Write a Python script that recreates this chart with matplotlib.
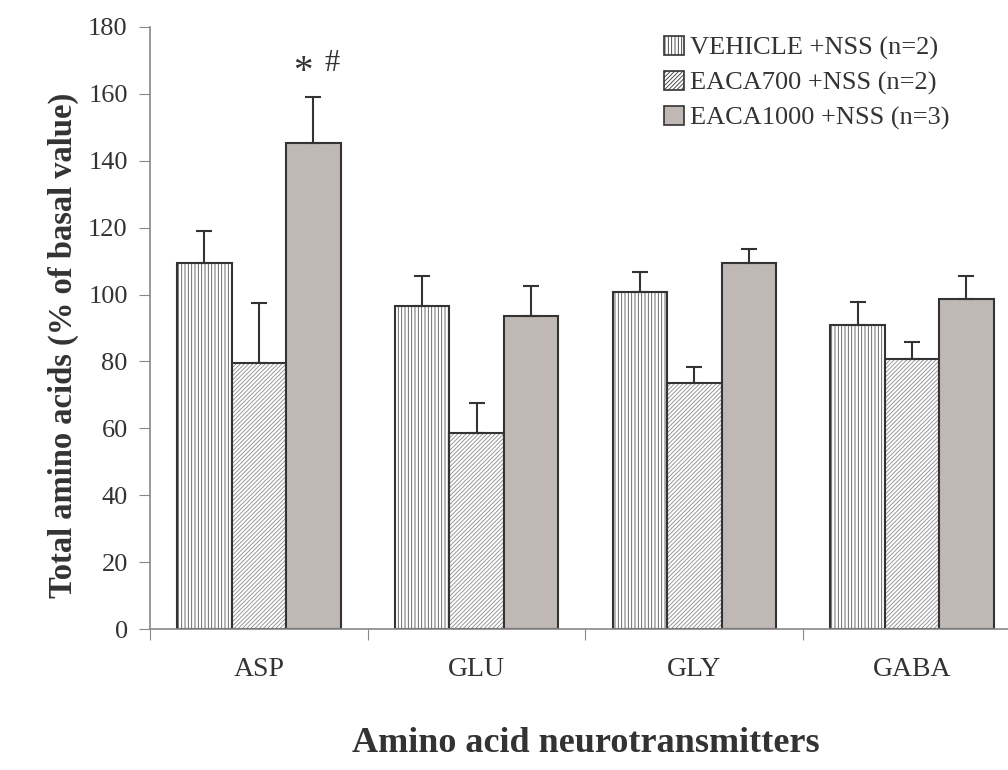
import matplotlib
matplotlib.use('Agg')
import matplotlib.pyplot as plt
from matplotlib.patches import Patch
import numpy as np

plt.rcParams['font.family'] = ['Liberation Serif', 'DejaVu Serif']
plt.rcParams['hatch.linewidth'] = 0.6

categories = ['ASP', 'GLU', 'GLY', 'GABA']
groups = ['VEHICLE +NSS (n=2)', 'EACA700 +NSS (n=2)', 'EACA1000 +NSS (n=3)']
vehicle = [109.5, 96.5, 100.7, 90.8]
vehicle_err = [9.5, 9.0, 6.1, 7.0]
eaca700 = [79.5, 58.7, 73.7, 80.7]
eaca700_err = [18.0, 8.9, 4.6, 5.2]
eaca1000 = [145.2, 93.5, 109.5, 98.8]
eaca1000_err = [14.0, 9.0, 4.2, 6.8]

means = [vehicle, eaca700, eaca1000]
errs = [vehicle_err, eaca700_err, eaca1000_err]
hatches = ['|||||', '////////', None]
hatch_cols = ['#555555', '#8a8a8a', None]
faces = ['white', 'white', '#c0b8b5']

fig = plt.figure(figsize=(10.08, 7.7), dpi=100)
ax = fig.add_axes([0.1488, 0.1831, 0.864, 0.7819])

x = np.arange(len(categories))
width = 0.25
for k in range(3):
    pos = x + 0.25 + k * width
    if hatches[k]:
        # hatch layer first, then the dark outline on top
        ax.bar(pos, means[k], width, color=faces[k], edgecolor=hatch_cols[k],
               linewidth=0, hatch=hatches[k], zorder=2)
    ax.bar(pos, means[k], width, color=faces[k] if not hatches[k] else 'none',
           edgecolor='#333333', linewidth=1.5, zorder=2.5)
    ax.errorbar(pos, means[k], yerr=[np.zeros(len(categories)), errs[k]], fmt='none',
                ecolor='#333333', elinewidth=1.5, capsize=6, capthick=1.5, zorder=3)

# significance marks over ASP EACA1000
ax.text(0.703, 166.5, '*', fontsize=28, ha='center', va='center', color='#333333')
ax.text(0.836, 169, '#', fontsize=22, ha='center', va='center', color='#333333')

ax.set_xlim(0, 4)
ax.set_ylim(0, 180)
ax.set_yticks(np.arange(0, 181, 20))
ax.set_xticks(np.arange(0, 5))
ax.set_xticklabels([])
ax.set_xticks(x + 0.5, minor=True)
ax.set_xticklabels(categories, minor=True)
ax.tick_params(axis='x', which='minor', length=0, pad=20, labelsize=20, colors='#333333')
ax.tick_params(axis='x', which='major', length=8, color='#888888', direction='out')
ax.tick_params(axis='y', length=8, color='#888888', labelsize=19, labelcolor='#333333', pad=8)

for s in ['top', 'right']:
    ax.spines[s].set_visible(False)
for s in ['left', 'bottom']:
    ax.spines[s].set_color('#888888')
    ax.spines[s].set_linewidth(1.2)

ax.set_ylabel('Total amino acids (% of basal value)', fontsize=23.5, fontweight='bold',
              color='#333333', va='center')
ax.yaxis.set_label_coords(-0.10, 0.471)
ax.set_xlabel('Amino acid neurotransmitters', fontsize=26, fontweight='bold',
              color='#333333', va='center')
ax.xaxis.set_label_coords(0.5, -0.19)

leg_handles = [Patch(facecolor=faces[k], edgecolor='#333333', hatch=hatches[k], linewidth=1.2)
               for k in range(3)]
ax.legend(leg_handles, groups, loc='upper left', bbox_to_anchor=(0.59, 0.985), frameon=False,
          fontsize=19, handlelength=0.75, handleheight=0.75, handletextpad=0.25,
          labelspacing=0.4, borderpad=0, borderaxespad=0, labelcolor='#333333')

fig.savefig('out.png', dpi=100)
